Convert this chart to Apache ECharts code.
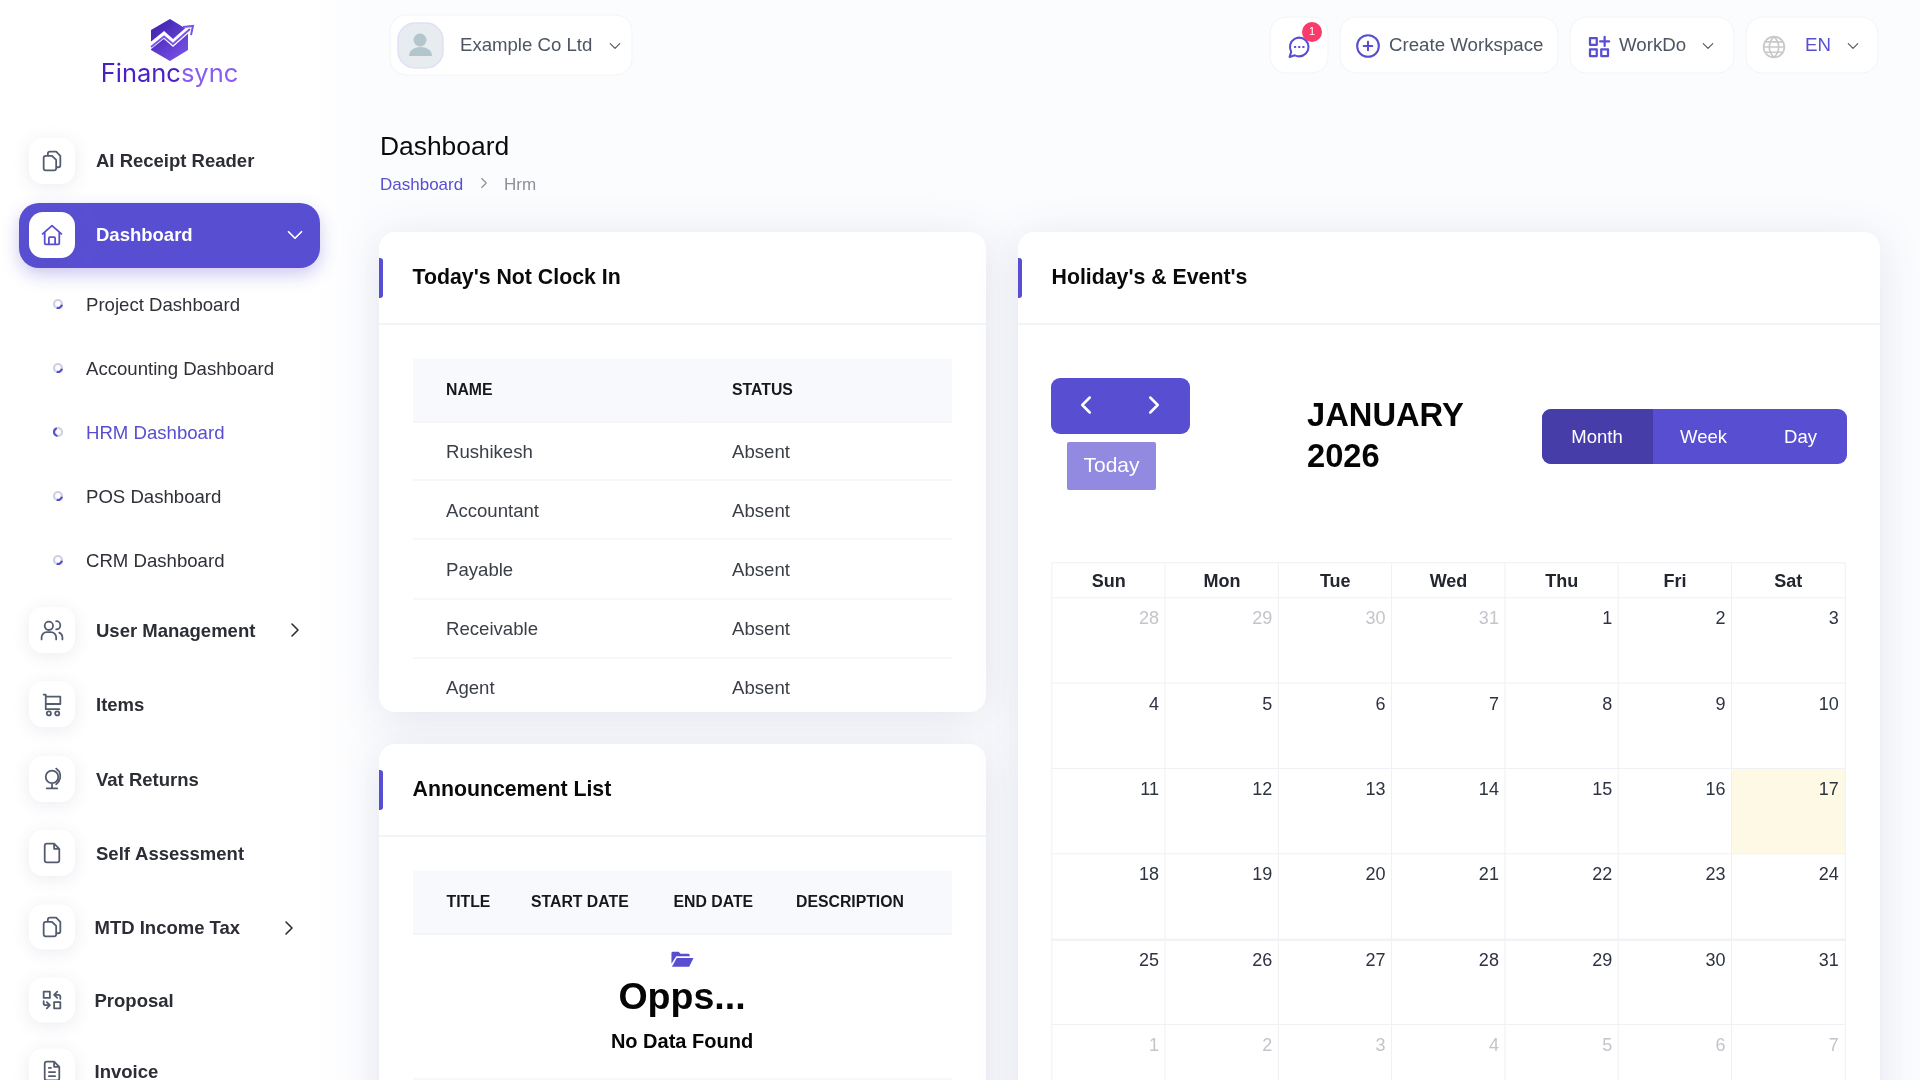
<!DOCTYPE html>
<html>
<head>
<meta charset="utf-8">
<title>Dashboard</title>
<script src="https://cdn.jsdelivr.net/npm/echarts@6/dist/echarts.min.js"></script>
<style>
html, body { margin: 0; padding: 0; width: 1920px; height: 1080px; overflow: hidden; background: #fbfcfe; }
#main { width: 1920px; height: 1200px; }
</style>
</head>
<body>
<div id="main"></div>
<script>
// page content
var sidebar_top = ['AI Receipt Reader'];
var sidebar_active = 'Dashboard';
var sidebar_sub = ['Project Dashboard', 'Accounting Dashboard', 'HRM Dashboard', 'POS Dashboard', 'CRM Dashboard'];
var sidebar_rest = ['User Management', 'Items', 'Vat Returns', 'Self Assessment', 'MTD Income Tax', 'Proposal', 'Invoice'];
var clock_columns = ['NAME', 'STATUS'];
var clock_names = ['Rushikesh', 'Accountant', 'Payable', 'Receivable', 'Agent'];
var clock_status = ['Absent', 'Absent', 'Absent', 'Absent', 'Absent'];
var announce_columns = ['TITLE', 'START DATE', 'END DATE', 'DESCRIPTION'];
// calendar
var week_days = ['Sun', 'Mon', 'Tue', 'Wed', 'Thu', 'Fri', 'Sat'];
var week_rows = ['w1', 'w2', 'w3', 'w4', 'w5', 'w6'];
var month_days = [
    [28, 29, 30, 31, 1, 2, 3],
    [4, 5, 6, 7, 8, 9, 10],
    [11, 12, 13, 14, 15, 16, 17],
    [18, 19, 20, 21, 22, 23, 24],
    [25, 26, 27, 28, 29, 30, 31],
    [1, 2, 3, 4, 5, 6, 7]
];
var today_cell = [6, 2];

var FONT = '"Liberation Sans", Arial, sans-serif';
var PURPLE = '#584ed2';
var ICON_GREY = '#525c6e';
var elements = [];
var overlay = []; // icons, drawn by the custom series because graphic has no path type

function text(x, y, str, size, weight, color, align) {
    elements.push({
        type: 'text', z: 10, silent: true,
        style: {
            x: x, y: y + 1 + size * 0.03, text: str, fill: color,
            font: (weight || 'normal') + ' ' + size + 'px ' + FONT,
            textAlign: align || 'left', textVerticalAlign: 'middle'
        }
    });
}

function box(x, y, w, h, r, fill, extra) {
    var style = { fill: fill };
    for (var k in (extra || {})) style[k] = extra[k];
    elements.push({
        type: 'rect', z: (extra && extra.zz) || 5, silent: true,
        shape: { x: x, y: y, width: w, height: h, r: r },
        style: style
    });
}

function hline(x1, x2, y, color, width) {
    elements.push({
        type: 'line', z: 6, silent: true,
        shape: { x1: x1, y1: y, x2: x2, y2: y },
        style: { stroke: color, lineWidth: width || 1 }
    });
}

function rawPath(d, style) {
    overlay.push({ type: 'path', shape: { pathData: d }, style: style });
}

// 24x24 stroke icon centred on cx, cy
function icon(d, cx, cy, size, color, lineWidth, fill) {
    var s = size / 24;
    overlay.push({
        type: 'path',
        shape: { pathData: d },
        x: cx - size / 2, y: cy - size / 2, scaleX: s, scaleY: s,
        style: { fill: fill || 'none', stroke: fill ? 'none' : color, lineWidth: lineWidth || 1.8, lineCap: 'round', lineJoin: 'round' }
    });
}

var ICONS = {
    copy: 'M8 7V5a2 2 0 0 1 2-2h6l4 4v9a2 2 0 0 1-2 2h-2M6 7h6l4 4v8a2 2 0 0 1-2 2H6a2 2 0 0 1-2-2V9a2 2 0 0 1 2-2Z',
    home: 'M3 11 12 3l9 8M5 9.5V20a1 1 0 0 0 1 1h12a1 1 0 0 0 1-1V9.5M9 21v-6a1 1 0 0 1 1-1h4a1 1 0 0 1 1 1v6',
    users: 'M9 4a4 4 0 1 1 0 8 4 4 0 0 1 0-8ZM2 21v-2a5 5 0 0 1 5-5h4a5 5 0 0 1 5 5v2M16 3.5a4 4 0 0 1 0 8M19 14.5a5 5 0 0 1 3 4.5v2',
    cart: 'M4 3h2v14h13M6 5h14v7H6M9 19a2 2 0 1 1-.01 0ZM17 19a2 2 0 1 1-.01 0Z',
    globe: 'M12 4a6 6 0 1 1 0 12 6 6 0 0 1 0-12ZM16 2a9 9 0 0 1 0 15M7 21h10M12 17v4',
    file: 'M7 3h7l5 5v11a2 2 0 0 1-2 2H7a2 2 0 0 1-2-2V5a2 2 0 0 1 2-2ZM14 3v5h5',
    swap: 'M4 4h6v6H4ZM14 20h6v-6h-6ZM14 7h4a2 2 0 0 1 2 2v2M17 4l-3 3 3 3M10 17H6a2 2 0 0 1-2-2v-2M7 14l3 3-3 3',
    invoice: 'M7 3h7l5 5v11a2 2 0 0 1-2 2H7a2 2 0 0 1-2-2V5a2 2 0 0 1 2-2ZM14 3v5h5M9 9h2M9 13h6M9 17h6',
    down: 'M6 9l6 6 6-6',
    right: 'M9 6l6 6-6 6',
    left: 'M15 6l-6 6 6 6',
    chat: 'M12 3a9 9 0 1 1-4 17l-5 1.5 1.5-5A9 9 0 0 1 12 3ZM8 12h.5M12 12h.5M16 12h.5',
    plus: 'M12 2a10 10 0 1 1 0 20 10 10 0 0 1 0-20ZM12 8v8M8 12h8',
    apps: 'M4 4h6v6H4ZM4 14h6v6H4ZM14 14h6v6h-6ZM17 3v8M13 7h8',
    world: 'M12 2a10 10 0 1 1 0 20 10 10 0 0 1 0-20ZM2 12h20M12 2c-6 6-6 14 0 20M12 2c6 6 6 14 0 20M4 7h16M4 17h16',
    folder: 'M1 5a1.5 1.5 0 0 1 1.5-1.5h6l2 2h8a1.5 1.5 0 0 1 1.5 1.5v1H6l-5 8ZM6.5 10H24l-4.5 9H1.5Z'
};

function tile(cy, h, name, color) {
    box(29, cy - h / 2, 46, h, 14, '#ffffff', { shadowBlur: 18, shadowColor: 'rgba(60,70,120,0.10)', shadowOffsetY: 3, zz: 7 });
    icon(ICONS[name], 52, cy, 25, color || ICON_GREY, 1.7);
}

function bullet(cy, active) {
    elements.push({ type: 'circle', z: 8, silent: true, shape: { cx: 58, cy: cy, r: 4 }, style: { fill: 'none', stroke: '#ccd0e4', lineWidth: 2.2 } });
    elements.push({
        type: 'arc', z: 9, silent: true,
        shape: active ? { cx: 58, cy: cy, r: 4, startAngle: 1.7, endAngle: 4.4 } : { cx: 58, cy: cy, r: 4, startAngle: 0.2, endAngle: 1.9 },
        style: { fill: 'none', stroke: PURPLE, lineWidth: 2.2 }
    });
}

function card(x, y, w, h, title) {
    box(x, y, w, h, 16, '#ffffff', { shadowBlur: 44, shadowColor: 'rgba(70,80,130,0.13)', shadowOffsetY: 6, zz: 1 });
    box(x, y + 26, 4, 40, [0, 3, 3, 0], PURPLE);
    text(x + 33.5, y + 44, title, 21.3, 'bold', '#0a0a0a');
    hline(x, x + w, y + 92, '#eff0f4', 1.5);
}

function drawLogo() {
    rawPath('M170 19 188 30v20L170 61 151 50V30Z', {
        fill: { type: 'linear', x: 0, y: 0, x2: 1, y2: 1, colorStops: [{ offset: 0, color: '#3a1fa8' }, { offset: 1, color: '#7d55ee' }] }
    });
    rawPath('M149 47 164 35 173 43 190 28', { fill: 'none', stroke: '#ffffff', lineWidth: 6 });
    rawPath('M151 47 164 36.5 173 44 190 29M183 27 193 26 191 35', { fill: 'none', stroke: '#7a52ec', lineWidth: 2 });
    elements.push({
        type: 'text', z: 10, silent: true,
        style: {
            x: 169.5, y: 74, text: '{a|Financ}{b|sync}', textAlign: 'center', textVerticalAlign: 'middle',
            rich: {
                a: { fill: '#4a1fc4', font: '25.5px Inter, ' + FONT },
                b: { fill: '#8a5cf2', font: '25.5px Inter, ' + FONT }
            }
        }
    });
}

function drawSidebar() {
    // white strip fading into the page
    box(0, 0, 370, 1080, 0, { type: 'linear', x: 0, y: 0, x2: 1, y2: 0, colorStops: [{ offset: 0, color: '#ffffff' }, { offset: 0.85, color: '#ffffff' }, { offset: 1, color: 'rgba(255,255,255,0)' }] }, { zz: 0 });
    drawLogo();
    tile(161, 46, 'copy');
    text(96, 160, sidebar_top[0], 18.5, 'bold', '#2b2e34');

    box(19, 203, 301, 65, 20, PURPLE, { shadowBlur: 18, shadowColor: 'rgba(88,78,210,0.30)', shadowOffsetY: 7, zz: 6 });
    tile(235, 46, 'home', PURPLE);
    text(96, 234.5, sidebar_active, 18.5, 'bold', '#ffffff');
    icon(ICONS.down, 295, 235, 26, '#ffffff', 1.6);

    var sub_y = [304, 368, 432, 496, 560];
    for (var i = 0; i < sidebar_sub.length; i++) {
        bullet(sub_y[i], i == 2);
        text(86, sub_y[i], sidebar_sub[i], 18.6, 'normal', i == 2 ? PURPLE : '#2e3138');
    }

    var rest_y = [630, 704, 779, 853, 927, 1000, 1071];
    var rest_icons = ['users', 'cart', 'globe', 'file', 'copy', 'swap', 'invoice'];
    for (var j = 0; j < sidebar_rest.length; j++) {
        tile(rest_y[j], j > 3 ? 45 : 46, rest_icons[j]);
        text(j > 3 ? 94.5 : 96, rest_y[j], sidebar_rest[j], 18.5, 'bold', '#2b2e34');
    }
    icon(ICONS.right, 295, 630, 24, '#2b2e34', 1.6);
    icon(ICONS.right, 289, 928, 24, '#2b2e34', 1.6);
}

function headerBox(x, w) {
    box(x, 17, w, 56, 16, '#ffffff', { stroke: '#f3f4f7', lineWidth: 1 });
}

function drawHeader() {
    box(390, 15, 242, 60, 16, '#ffffff', { stroke: '#f3f4f7', lineWidth: 1 });
    box(398, 23, 45, 45, 17, '#e6ecef', { stroke: '#e2dff6', lineWidth: 1.5 });
    elements.push({ type: 'circle', z: 9, silent: true, shape: { cx: 420, cy: 40, r: 6.5 }, style: { fill: '#b3c6cd' } });
    rawPath('M409 56c0-12 23-12 23 0Z', { fill: '#b3c6cd' });
    text(460, 44.5, 'Example Co Ltd', 18.6, 'normal', '#4d5562');
    icon(ICONS.down, 615, 46, 19, '#4d5562', 1.4);

    headerBox(1270, 58);
    icon(ICONS.chat, 1299, 47, 25, PURPLE, 2);
    overlay.push({ type: 'circle', shape: { cx: 1312, cy: 32, r: 10 }, style: { fill: '#fb3a6c' } });
    overlay.push({ type: 'text', style: { x: 1312, y: 32, text: '1', fill: '#ffffff', font: '11px ' + FONT, textAlign: 'center', textVerticalAlign: 'middle' } });

    headerBox(1340, 218);
    icon(ICONS.plus, 1368, 46, 26, PURPLE, 1.9);
    text(1389, 44.5, 'Create Workspace', 18.7, 'normal', '#4d5562');

    headerBox(1570, 164);
    icon(ICONS.apps, 1599, 47, 27, PURPLE, 2);
    text(1619, 44.5, 'WorkDo', 18.7, 'normal', '#4d5562');
    icon(ICONS.down, 1708, 46, 19, '#4d5562', 1.4);

    headerBox(1746, 132);
    icon(ICONS.world, 1774, 47, 25, '#c8c9cb', 1.6);
    text(1805, 44.5, 'EN', 18.7, 'normal', PURPLE);
    icon(ICONS.down, 1853, 46, 19, '#4d5562', 1.4);

    text(380, 146, 'Dashboard', 26.4, 'normal', '#0a0a0a');
    text(380, 184, 'Dashboard', 17, 'normal', PURPLE);
    icon(ICONS.right, 484, 183, 18, '#8a8f98', 1.5);
    text(504, 184, 'Hrm', 17, 'normal', '#8c9097');
}

function drawClockCard() {
    card(379, 232, 607, 480, "Today's Not Clock In");
    box(413, 359, 539, 63, 0, '#f8f9fd');
    hline(413, 952, 422, '#eff0f4');
    var col_x = [446, 732];
    for (var c = 0; c < clock_columns.length; c++) {
        text(col_x[c], 389.5, clock_columns[c], 15.8, 'bold', '#16181c');
    }
    var row_y = [451, 510, 569, 628, 687];
    var line_y = [480, 539, 599, 658];
    for (var r = 0; r < clock_names.length; r++) {
        text(col_x[0], row_y[r], clock_names[r], 18.6, 'normal', '#3a3e46');
        text(col_x[1], row_y[r], clock_status[r], 18.6, 'normal', '#3a3e46');
        if (r < line_y.length) hline(413, 952, line_y[r], '#eff0f4');
    }
}

function drawAnnounceCard() {
    card(379, 744, 607, 400, 'Announcement List');
    box(413, 871, 539, 63, 0, '#f8f9fd');
    hline(413, 952, 934, '#eff0f4', 1.5);
    var col_x = [446.5, 531, 673.5, 796];
    for (var c = 0; c < announce_columns.length; c++) {
        text(col_x[c], 901.5, announce_columns[c], 15.8, 'bold', '#16181c');
    }
    icon(ICONS.folder, 682, 960, 23, PURPLE, 1, PURPLE);
    text(682, 997, 'Opps...', 37.5, 'bold', '#050505', 'center');
    text(682, 1040.5, 'No Data Found', 20, 'bold', '#050505', 'center');
    hline(413, 952, 1079, '#eff0f4');
}

function drawCalendarCard() {
    card(1018, 232, 862, 900, "Holiday's & Event's");
    box(1051, 378, 139, 56, 9, PURPLE);
    icon(ICONS.left, 1086, 405, 30, '#ffffff', 2);
    icon(ICONS.right, 1154, 405, 30, '#ffffff', 2);
    box(1067, 442, 89, 48, 2, '#9289e1');
    text(1111.5, 465, 'Today', 21, 'normal', '#ffffff', 'center');
    text(1307, 415, 'JANUARY', 32.7, 'bold', '#050505');
    text(1307, 456, '2026', 32.7, 'bold', '#050505');
    box(1542, 409, 305, 55, 9, PURPLE);
    box(1542, 409, 111, 55, [9, 0, 0, 9], '#473da8');
    text(1597, 436, 'Month', 18.5, 'normal', '#ffffff', 'center');
    text(1703.5, 436, 'Week', 18.5, 'normal', '#ffffff', 'center');
    text(1800.5, 436, 'Day', 18.5, 'normal', '#ffffff', 'center');
    // seam across the calendar in the source picture
    overlay.push({ type: 'line', shape: { x1: 1052, y1: 940, x2: 1846, y2: 940 }, style: { stroke: '#f1f2f5', lineWidth: 2 } });
}

function buildDayCells() {
    var cells = [];
    for (var r = 0; r < month_days.length; r++) {
        for (var c = 0; c < month_days[r].length; c++) {
            var day = month_days[r][c];
            var muted = r == 5 || (r == 0 && day > 20);
            var is_today = c == today_cell[0] && r == today_cell[1];
            cells.push({
                value: [c, r, day],
                itemStyle: { color: is_today ? '#fdf9e4' : '#ffffff' },
                label: { color: muted ? '#c3c5ca' : '#2d3340' }
            });
        }
    }
    return cells;
}

function buildHeadCells() {
    var cells = [];
    for (var i = 0; i < week_days.length; i++) cells.push([i, 0, i]);
    return cells;
}

drawSidebar();
drawHeader();
drawClockCard();
drawAnnounceCard();
drawCalendarCard();

function axis(extra) {
    var a = { axisLine: { show: false }, axisTick: { show: false }, axisLabel: { show: false }, splitLine: { show: false } };
    for (var m in extra) a[m] = extra[m];
    return a;
}

var option = {
    animation: false,
    backgroundColor: '#fbfcfe',
    textStyle: { fontFamily: FONT },
    grid: [
        { left: 1052, top: 563, width: 793, height: 35 },
        { left: 1052, top: 598, width: 793, height: 512 }
    ],
    xAxis: [
        axis({ type: 'category', gridIndex: 0, data: week_days }),
        axis({ type: 'category', gridIndex: 1, data: week_days })
    ],
    yAxis: [
        axis({ type: 'category', gridIndex: 0, data: ['head'] }),
        axis({ type: 'category', gridIndex: 1, data: week_rows, inverse: true })
    ],
    graphic: { elements: elements },
    series: [
        {
            type: 'heatmap', xAxisIndex: 0, yAxisIndex: 0, z: 3, silent: true,
            data: buildHeadCells(),
            itemStyle: { color: '#ffffff', borderColor: '#eff0f3', borderWidth: 1 },
            label: {
                show: true, color: '#23262e', fontSize: 18, fontWeight: 'bold', fontFamily: FONT,
                offset: [0, 2],
                formatter: function(p) { return week_days[p.data[2]]; }
            }
        },
        {
            type: 'heatmap', xAxisIndex: 1, yAxisIndex: 1, z: 3, silent: true,
            data: buildDayCells(),
            itemStyle: { borderColor: '#eff0f3', borderWidth: 1 },
            label: {
                show: true, position: 'insideTopRight', distance: 7, offset: [0, 6], fontSize: 18, fontFamily: FONT,
                formatter: function(p) { return p.data.value[2]; }
            }
        },
        {
            type: 'custom', coordinateSystem: 'none', z: 20, silent: true,
            data: [0],
            renderItem: function() {
                return { type: 'group', children: overlay };
            }
        }
    ]
};

var chart = echarts.init(document.getElementById('main'), null, { renderer: 'canvas', width: 1920, height: 1200 });
chart.setOption(option);
</script>
</body>
</html>
